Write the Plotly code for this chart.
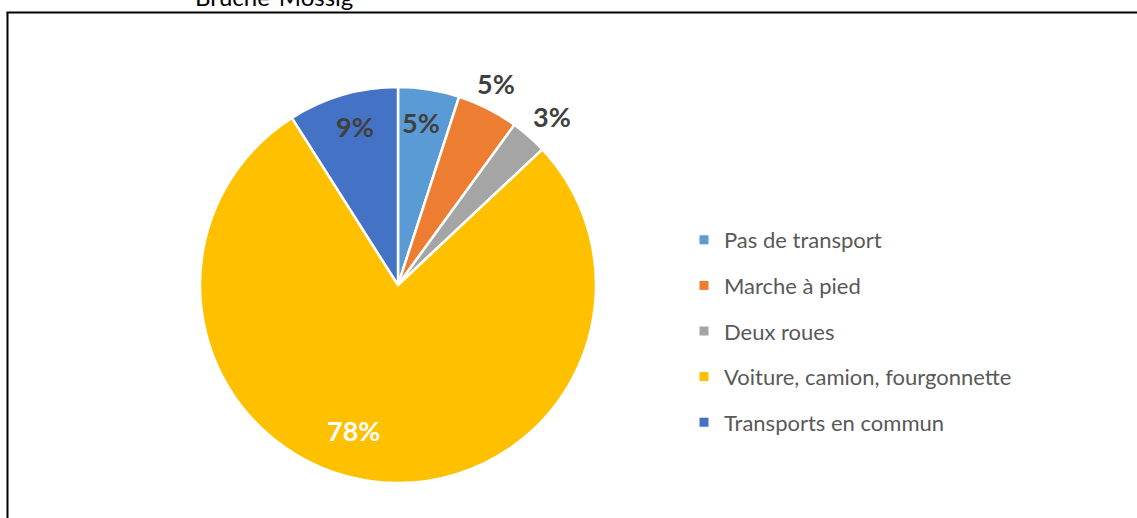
import numpy as np
import plotly.graph_objects as go

W, H = 1137, 518

labels = ["Pas de transport", "Marche à pied", "Deux roues",
          "Voiture, camion, fourgonnette", "Transports en commun"]
values = [5, 5, 3, 78, 9]
text_labels = ["5%", "5%", "3%", "78%", "9%"]
colors = ["#5B9BD5", "#ED7D31", "#A5A5A5", "#FFC000", "#4472C4"]
title_text = "Bruche-Mossig"

# style / layout constants (pixels)
CX, CY, R = 398, 285, 198
label_frac = [0.83, 1.13, 1.15, 0.77, 0.83]
label_angle_offset = [-1, -1, 1, 9.6, 1]
label_colors = ["#404040", "#404040", "#404040", "#FFFFFF", "#404040"]


def px(x):
    return x / W


def py(y):
    return 1 - y / H


fig = go.Figure()
fig.add_trace(go.Pie(
    labels=labels, values=values, sort=False, direction="clockwise", rotation=0,
    marker=dict(colors=colors, line=dict(color="white", width=2.5)),
    textinfo="none", hoverinfo="label+percent", showlegend=False,
    domain=dict(x=[px(CX - R), px(CX + R)], y=[py(CY + R), py(CY - R)]),
))

# legend entries
for lab, col in zip(labels, colors):
    fig.add_trace(go.Scatter(
        x=[None], y=[None], mode="markers", name=lab, legendgroup=lab,
        marker=dict(symbol="square", size=9, color=col),
    ))

# percentage labels placed from the data
total = sum(values)
cum = 0
annotations = []
for i, v in enumerate(values):
    theta = np.deg2rad(360 * (cum + v / 2) / total + label_angle_offset[i])
    cum += v
    r = R * label_frac[i]
    x = CX + r * np.sin(theta)
    y = CY - r * np.cos(theta)
    annotations.append(dict(
        x=px(x), y=py(y), xref="paper", yref="paper", text=text_labels[i],
        showarrow=False, xanchor="center", yanchor="middle",
        font=dict(family="Lato", size=27, color=label_colors[i], weight="bold"),
    ))

annotations.append(dict(
    x=px(274), y=py(13), xref="paper", yref="paper", text=title_text,
    showarrow=False, xanchor="center", yanchor="bottom",
    font=dict(family="Lato", size=24, color="#000000"),
))

shapes = [
    dict(type="line", xref="paper", yref="paper", x0=px(7.5), x1=px(7.5),
         y0=0, y1=py(12.5), line=dict(color="black", width=2)),
    dict(type="line", xref="paper", yref="paper", x0=px(6.5), x1=1,
         y0=py(12.5), y1=py(12.5), line=dict(color="black", width=2)),
]

fig.update_layout(
    width=W, height=H, margin=dict(l=0, r=0, t=0, b=0),
    paper_bgcolor="white", plot_bgcolor="white",
    xaxis=dict(visible=False), yaxis=dict(visible=False),
    annotations=annotations, shapes=shapes,
    legend=dict(x=px(684), y=py(219), xanchor="left", yanchor="top",
                font=dict(family="Lato", size=22, color="#595959"),
                tracegroupgap=14, itemwidth=30, bgcolor="rgba(0,0,0,0)"),
)

fig.write_html("out.html", config={"displayModeBar": False},
               post_script="document.body.style.margin='0';")
